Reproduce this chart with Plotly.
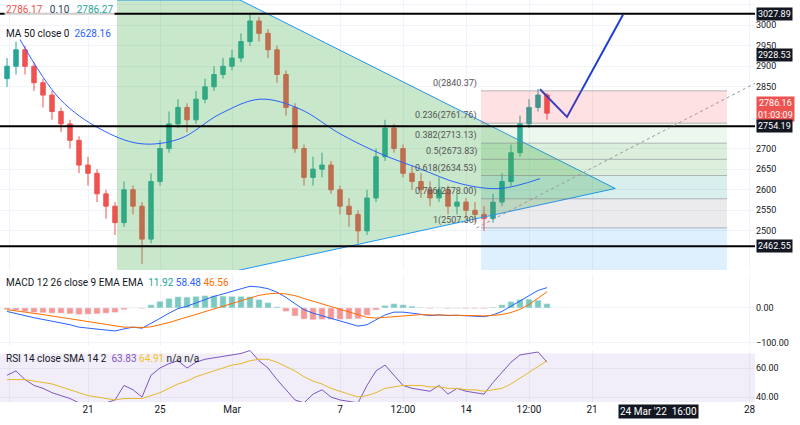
import plotly.graph_objects as go
from plotly.subplots import make_subplots
import pandas as pd

# 12h candles, Feb 16 12:00 .. Mar 18 12:00
candle_start = "2022-02-16 12:00"
closes = [2900,2940,2900,2860,2830,2790,2760,2720,2660,2640,2590,2560,2520,2600,2560,2480,2620,2700,2760,2800,
          2770,2820,2850,2880,2900,2920,2960,3010,2980,2940,2880,2800,2700,2630,2650,2660,2600,2560,2540,2500,
          2580,2680,2750,2700,2640,2620,2600,2580,2600,2560,2570,2550,2540,2530,2570,2620,2690,2760,2800,2830,2786]
highs = [2920,2960,2950,2910,2870,2840,2800,2770,2730,2680,2650,2600,2570,2620,2610,2570,2640,2720,2790,2820,
         2810,2840,2870,2900,2920,2940,2980,3030,3020,2990,2950,2890,2810,2710,2680,2690,2670,2610,2580,2550,
         2600,2700,2770,2760,2710,2660,2640,2620,2630,2610,2590,2580,2570,2560,2590,2640,2710,2780,2820,2845,2835]
lows = [2850,2880,2880,2840,2800,2770,2740,2700,2640,2610,2570,2530,2490,2510,2540,2420,2470,2610,2690,2750,
        2740,2760,2810,2840,2870,2890,2910,2950,2960,2920,2860,2780,2690,2610,2610,2630,2590,2540,2510,2470,
        2490,2570,2670,2690,2630,2600,2580,2560,2570,2540,2540,2530,2520,2500,2520,2560,2610,2680,2750,2790,2770]
first_open = 2870

ma_dates = ["2022-02-17 05:20","2022-02-19 10:40","2022-02-21 16:00","2022-02-23 21:20","2022-02-26 02:40",
            "2022-02-28 08:00","2022-03-02 13:20","2022-03-04 18:40","2022-03-07 00:00","2022-03-09 05:20",
            "2022-03-11 10:40","2022-03-13 16:00","2022-03-15 21:20","2022-03-18 02:40"]
ma_values = [2965,2820,2748,2712,2724,2784,2820,2796,2736,2688,2651,2615,2603,2627]

macd = [-10,-15,-22,-28,-33,-38,-42,-48,-55,-58,-62,-64,-66,-60,-55,-58,-45,-30,-15,-2,
        5,15,25,33,40,47,55,62,60,55,45,30,12,-5,-15,-22,-30,-38,-45,-52,
        -48,-35,-20,-12,-12,-15,-18,-22,-20,-22,-21,-23,-24,-25,-20,-10,5,20,35,50,58]
signal = [-5,-8,-11,-15,-19,-23,-27,-31,-36,-40,-45,-49,-53,-55,-55,-56,-54,-49,-42,-34,
          -26,-18,-10,-2,6,14,22,30,36,40,42,40,35,27,19,11,3,-5,-13,-21,
          -27,-29,-27,-24,-21,-20,-19,-20,-20,-20,-20,-21,-22,-23,-22,-19,-13,-4,10,28,46]
rsi = [55,58,52,48,46,43,41,39,36,36,35,36,38,48,45,40,55,60,63,65,
       60,64,66,67,68,69,70,72,65,60,52,45,38,36,42,45,40,38,37,36,
       48,58,62,55,48,46,45,44,48,42,46,44,43,42,50,57,64,69,70,71,64]
rsi_sma = [52,52,52,51,50,49,47,45,43,41,40,39,38,39,39,39,41,43,46,49,
           51,54,56,58,60,62,63,65,66,66,64,61,58,54,51,49,46,44,42,40,
           41,43,46,47,48,48,48,47,47,46,46,45,45,44,45,46,49,53,57,61,65]

fib_ratios = ["0", "0.236", "0.382", "0.5", "0.618", "0.786", "1"]
fib_values = [2840.37, 2761.76, 2713.13, 2673.83, 2634.53, 2578.0, 2507.30]
fib_fills = ["rgba(242,54,69,0.15)", "rgba(129,199,132,0.15)", "rgba(76,175,80,0.2)",
             "rgba(76,175,80,0.2)", "rgba(0,150,136,0.15)", "rgba(120,123,134,0.15)"]
fib_start, fib_end = "2022-03-14 20:00", "2022-03-28 12:00"

levels = [3027.89, 2754.19, 2462.55]
tri_x = ["2022-02-22 14:40", "2022-03-01 10:40", "2022-03-22 07:00", "2022-02-22 14:40"]
tri_y = [3061, 3061, 2603, 2340]
proj_x = ["2022-03-18 02:40", "2022-03-19 14:40", "2022-03-22 17:20"]
proj_y = [2844, 2777, 3025]

dates = pd.date_range(candle_start, periods=len(closes), freq="12h")
opens = [first_open] + closes[:-1]
hist = [m - s for m, s in zip(macd, signal)]

fig = make_subplots(rows=3, cols=1, shared_xaxes=True, vertical_spacing=0.01)

# triangle
fig.add_trace(go.Scatter(x=tri_x, y=tri_y, fill="toself", fillcolor="rgba(76,175,80,0.3)",
                         mode="lines", line=dict(color="#2196f3", width=1), hoverinfo="skip"), 1, 1)
# fib
for i in range(len(fib_fills)):
    fig.add_shape(type="rect", x0=fib_start, x1=fib_end, y0=fib_values[i + 1], y1=fib_values[i],
                  fillcolor=fib_fills[i], line_width=0, row=1, col=1)
fig.add_shape(type="rect", x0=fib_start, x1=fib_end, y0=2400, y1=fib_values[-1],
              fillcolor="rgba(33,150,243,0.15)", line_width=0, row=1, col=1)
for r, v in zip(fib_ratios, fib_values):
    fig.add_shape(type="line", x0=fib_start, x1=fib_end, y0=v, y1=v,
                  line=dict(color="rgba(120,123,134,0.5)", width=1), row=1, col=1)
    fig.add_annotation(x=fib_start, y=v, text=f"{r}({v:.2f})", showarrow=False, xanchor="right",
                       yanchor="bottom", xshift=-2, font=dict(size=9, color="#555"), row=1, col=1)
for v in levels:
    fig.add_hline(y=v, line=dict(color="black", width=2), row=1, col=1)
fig.add_shape(type="line", x0="2022-03-14 14:00", y0=2507, x1="2022-03-31", y1=2880,
              line=dict(color="#999", width=1, dash="dot"), row=1, col=1)

fig.add_trace(go.Candlestick(x=dates, open=opens, high=highs, low=lows, close=closes,
                             increasing=dict(line=dict(color="#26a69a", width=1), fillcolor="#26a69a"),
                             decreasing=dict(line=dict(color="#ef5350", width=1), fillcolor="#ef5350")), 1, 1)
fig.add_trace(go.Scatter(x=ma_dates, y=ma_values, mode="lines", line=dict(color="#2962ff", width=1,
                         shape="spline")), 1, 1)
fig.add_trace(go.Scatter(x=proj_x, y=proj_y, mode="lines", line=dict(color="#1e3fd0", width=2)), 1, 1)

# MACD
fig.add_trace(go.Bar(x=dates, y=hist, marker_color=["#26a69a" if h >= 0 else "#ef5350" for h in hist],
                     opacity=0.6), 2, 1)
fig.add_trace(go.Scatter(x=dates, y=macd, mode="lines", line=dict(color="#2962ff", width=1)), 2, 1)
fig.add_trace(go.Scatter(x=dates, y=signal, mode="lines", line=dict(color="#ff6d00", width=1)), 2, 1)

# RSI
fig.add_shape(type="rect", xref="x3 domain", x0=0, x1=1, y0=30, y1=70,
              fillcolor="rgba(126,87,194,0.1)", line_width=0, row=3, col=1)
for v in (70, 50):
    fig.add_hline(y=v, line=dict(color="#aaa", width=1, dash="dash"), row=3, col=1)
fig.add_trace(go.Scatter(x=dates, y=rsi, mode="lines", line=dict(color="#7e57c2", width=1)), 3, 1)
fig.add_trace(go.Scatter(x=dates, y=rsi_sma, mode="lines", line=dict(color="#f0c419", width=1)), 3, 1)

tick_vals = ["2022-02-16 15:00", "2022-02-21", "2022-02-25", "2022-03-01", "2022-03-07", "2022-03-10 12:00",
             "2022-03-14", "2022-03-17 12:00", "2022-03-21", "2022-03-29 18:00"]
tick_text = ["12:00", "21", "25", "Mar", "7", "12:00", "14", "12:00", "21", "28"]
grid = "#f0f3fa"
fig.update_xaxes(range=["2022-02-16 02:40", "2022-03-30 01:20"], showgrid=True, gridcolor=grid,
                 tickvals=tick_vals, ticktext=tick_text, rangeslider_visible=False,
                 showline=False, zeroline=False, tickfont=dict(size=10, color="#131722"))
fig.update_yaxes(side="right", showgrid=True, gridcolor=grid, zeroline=False,
                 tickfont=dict(size=9, color="#131722"))
price_ticks = [2500, 2550, 2600, 2650, 2700, 2850, 2900, 2950, 3000, 3050]
fig.update_yaxes(range=[2405, 3061], tickvals=price_ticks, tickformat=".0f", domain=[0.3284, 1],
                 row=1, col=1)
fig.update_yaxes(range=[-106, 97], tickvals=[0, -100], tickformat=".2f", domain=[0.1418, 0.3184],
                 row=2, col=1)
fig.update_yaxes(range=[36.6, 72.4], tickvals=[60, 40], tickformat=".2f", domain=[0, 0.1294],
                 row=3, col=1)

# price labels on right axis
for v, bg in [(3027.89, "#131722"), (2928.53, "#131722"), (2786.16, "#ef5350"),
              (2754.19, "#131722"), (2462.55, "#131722")]:
    txt = f"{v:.2f}" if v != 2786.16 else "2786.16<br>01:03:09"
    fig.add_annotation(xref="paper", x=1, y=v, yref="y", text=txt, showarrow=False, xanchor="left",
                       xshift=1, yshift=4 if v == 2786.16 else 0, bgcolor=bg,
                       font=dict(color="white", size=9), borderpad=1)

fig.add_annotation(xref="paper", yref="paper", x=0.005, y=0.995, xanchor="left", yanchor="top",
                   text="<span style='color:#ef5350'>2786.17</span>   0.10   "
                        "<span style='color:#26a69a'>2786.27</span>", showarrow=False,
                   bgcolor="rgba(255,255,255,0.8)", font=dict(size=10))
fig.add_annotation(xref="paper", yref="paper", x=0.005, y=0.935, xanchor="left", yanchor="top",
                   text="MA 50 close 0  <span style='color:#2962ff'>2628.16</span>", showarrow=False,
                   font=dict(size=10, color="#131722"))
fig.add_annotation(xref="paper", yref="paper", x=0.005, y=0.315, xanchor="left", yanchor="top",
                   text="MACD 12 26 close 9 EMA EMA  <span style='color:#26a69a'>11.92</span> "
                        "<span style='color:#2962ff'>58.48</span> <span style='color:#ff6d00'>46.56</span>",
                   showarrow=False, font=dict(size=10, color="#131722"))
fig.add_annotation(xref="paper", yref="paper", x=0.005, y=0.128, xanchor="left", yanchor="top",
                   text="RSI 14 close SMA 14 2  <span style='color:#7e57c2'>63.83</span> "
                        "<span style='color:#f0c419'>64.91</span> n/a n/a",
                   showarrow=False, font=dict(size=10, color="#131722"))
fig.add_annotation(xref="x3", yref="paper", x="2022-03-24 16:00", y=-0.005, yanchor="top",
                   text="24 Mar '22  16:00", showarrow=False, bgcolor="#131722",
                   font=dict(color="white", size=10))

fig.update_layout(width=800, height=425, margin=dict(l=0, r=45, t=0, b=23), showlegend=False,
                  paper_bgcolor="white", plot_bgcolor="white", bargap=0.3,
                  font=dict(family="Roboto"))
fig.write_html("out.html", config={"displayModeBar": False},
               post_script="document.body.style.margin='0';")
